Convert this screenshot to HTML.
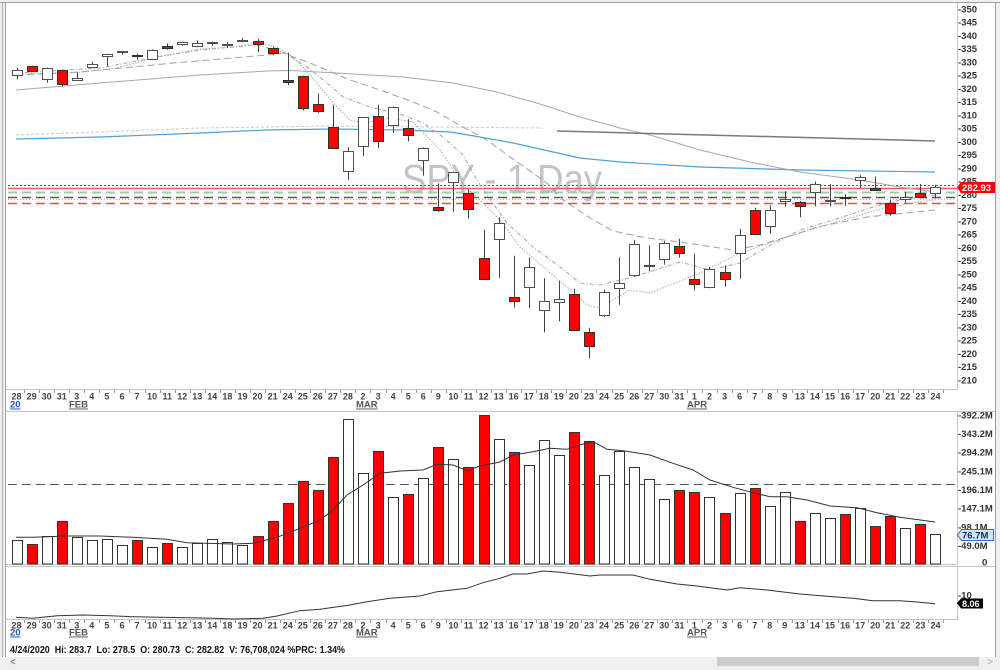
<!DOCTYPE html>
<html><head><meta charset="utf-8">
<style>
html,body{margin:0;padding:0;background:#f0f0f0;overflow:hidden;}
svg{display:block;}
text{font-family:"Liberation Sans",Arial,sans-serif;}
.ax text{font-size:9.5px;font-weight:bold;fill:#333;}
.dl text{font-size:9px;font-weight:bold;fill:#444;text-anchor:middle;}
.mo{font-size:9.5px;font-weight:bold;fill:#555;text-decoration:underline;}
</style></head>
<body>
<svg width="1000" height="670" viewBox="0 0 1000 670" xmlns="http://www.w3.org/2000/svg">
<rect width="1000" height="670" fill="#f0f0f0"/>
<rect x="6" y="3" width="989" height="654" fill="#ffffff"/>
<!-- frame -->
<line x1="0" y1="2.5" x2="1000" y2="2.5" stroke="#a0a0a0"/>
<line x1="2.5" y1="3" x2="2.5" y2="657" stroke="#b0b0b0"/>
<line x1="5.5" y1="3" x2="5.5" y2="657" stroke="#a0a0a0"/>
<line x1="995.5" y1="3" x2="995.5" y2="657" stroke="#a0a0a0"/>

<!-- panel borders -->
<g stroke="#c4c4c4" fill="none">
<line x1="6" y1="389.5" x2="957.5" y2="389.5"/>
<line x1="957.5" y1="3" x2="957.5" y2="389.5"/>
<line x1="6" y1="411.5" x2="995" y2="411.5"/>
<line x1="957.5" y1="412" x2="957.5" y2="564.5"/>
<line x1="6" y1="564.5" x2="957.5" y2="564.5"/>
<line x1="6" y1="566.5" x2="995" y2="566.5"/>
<line x1="957.5" y1="567" x2="957.5" y2="619.5"/>
<line x1="6" y1="619.5" x2="957.5" y2="619.5"/>
</g>

<!-- watermark -->
<text x="402" y="193" font-size="41" fill="#c4c4c4" textLength="200" lengthAdjust="spacingAndGlyphs">SPY - 1 Day</text>

<!-- level lines -->
<line x1="8" y1="185.5" x2="956" y2="185.5" stroke="#2e8b2e" stroke-dasharray="2,2"/>
<line x1="8" y1="188.5" x2="957" y2="188.5" stroke="#f45c5c" stroke-width="1.5"/>
<line x1="8" y1="192.5" x2="956" y2="192.5" stroke="#9ccf9c" stroke-width="2" stroke-dasharray="9,5"/>
<line x1="8" y1="197.5" x2="956" y2="197.5" stroke="#555" stroke-width="1.5" stroke-dasharray="9,5"/>
<line x1="8" y1="199.5" x2="956" y2="199.5" stroke="#f7a0a0" stroke-dasharray="1,2"/>
<line x1="8" y1="203.5" x2="956" y2="203.5" stroke="#f24a4a" stroke-width="1.5" stroke-dasharray="9,5"/>

<!-- moving averages -->
<polyline fill="none" stroke="#cacaca" stroke-dasharray="3,2" points="16,135 100,132 200,128 333,126 543,128"/>
<polyline fill="none" stroke="#4f9fd8" stroke-width="1.2" points="16,139 100,137 200,133 267,130 333,129 403,130 450,132 480,137 513,143 580,158 620,162 700,167 800,170 935,172"/>
<polyline fill="none" stroke="#a8a8a8" points="16,90 100,83 200,75 267,71 290,70.5 337,73 403,77 453,83 497,92 540,104 580,117 620,128 650,135 700,150 750,162 800,172 860,180 900,187 935,192"/>
<polyline fill="none" stroke="#7a7a7a" stroke-width="1.5" points="557,131 935,141"/>
<polyline fill="none" stroke="#a0a0a0" stroke-dasharray="7,4" points="16,75 67,73 133,67 173,63 233,58 267,55 283,53 310,63 350,80 380,90 413,102 437,112 463,127 487,140 510,157 547,183 563,200 590,218 613,231 647,238 680,242 713,247 733,250 760,245 790,236 817,227 867,217 935,210"/>
<polyline fill="none" stroke="#a4a4a4" stroke-dasharray="4,2,1,2" points="16,73 100,68 157,57 200,50 257,45 283,52 307,67 327,83 343,97 370,107 403,115 423,123 443,137 463,155 480,185 507,223 533,247 560,267 580,283 600,285 633,277 680,262 710,270 740,263 767,247 800,230 833,220 873,207 900,200 935,195"/>
<polyline fill="none" stroke="#a8a8a8" stroke-dasharray="1.5,1.5" points="16,74 83,72 117,68 157,57 200,49 233,47 257,43 277,47 290,55 303,67 320,87 337,107 350,120 363,123 390,118 413,122 440,150 463,185 480,200 500,220 520,247 547,270 567,287 587,305 600,308 613,300 630,290 650,293 700,273 740,253 787,237 833,223 877,210 917,202 935,200"/>

<g id="cg"></g>
<g id="tk" stroke="#999"></g>

<!-- volume -->
<line x1="8" y1="484.5" x2="957" y2="484.5" stroke="#555" stroke-dasharray="9,5"/>
<g id="vg"></g>
<polyline fill="none" stroke="#333" points="16,537.3 33,537.3 67,536 100,536 133,537.3 167,539.3 187,542.7 233,544 253,543.3 277,537.3 300,528.3 320,520 333,510 347,495 363,485 380,473.3 400,471 423,470 437,464.3 453,465 467,470.7 480,466 500,462 513,455 533,451.7 550,448.3 567,449.3 583,444 593,441.7 607,449.3 623,450.7 650,455 673,463.3 693,470 710,480 733,487.3 753,492.7 770,496.7 787,496.7 807,500 830,506 857,507.7 877,512.7 900,517.3 935,522"/>

<!-- indicator -->
<polyline fill="none" stroke="#333" points="16,617.3 33,618.3 57,615.7 83,615 110,615.7 133,616.7 160,617.3 187,617.7 213,618.3 233,619 263,618.3 277,616 300,610.7 320,609.3 350,605 367,601.7 390,598.3 420,596 437,591.7 467,588.3 483,582.7 500,578.3 513,574 527,574 543,571 560,572.3 590,576 600,575 633,575 650,579.3 677,584 697,586 727,590 740,587.7 767,590 800,594 833,596.7 853,598.3 873,600.7 900,600.7 917,602 935,603.7"/>

<!-- price axis labels -->
<g class="ax">
<text x="958" y="12.3">-350</text>
<text x="958" y="25.6">-345</text>
<text x="958" y="38.8">-340</text>
<text x="958" y="52.1">-335</text>
<text x="958" y="65.3">-330</text>
<text x="958" y="78.6">-325</text>
<text x="958" y="91.8">-320</text>
<text x="958" y="105.1">-315</text>
<text x="958" y="118.3">-310</text>
<text x="958" y="131.6">-305</text>
<text x="958" y="144.8">-300</text>
<text x="958" y="158.1">-295</text>
<text x="958" y="171.3">-290</text>
<text x="958" y="184.6">-285</text>
<text x="958" y="197.8">-280</text>
<text x="958" y="211.1">-275</text>
<text x="958" y="224.3">-270</text>
<text x="958" y="237.6">-265</text>
<text x="958" y="250.8">-260</text>
<text x="958" y="264.1">-255</text>
<text x="958" y="277.3">-250</text>
<text x="958" y="290.6">-245</text>
<text x="958" y="303.8">-240</text>
<text x="958" y="317.1">-235</text>
<text x="958" y="330.3">-230</text>
<text x="958" y="343.6">-225</text>
<text x="958" y="356.8">-220</text>
<text x="958" y="370.1">-215</text>
<text x="958" y="383.3">-210</text>
<!-- volume axis -->
<text x="958" y="418.3">-392.2M</text>
<text x="958" y="436.9">-343.2M</text>
<text x="958" y="455.6">-294.2M</text>
<text x="958" y="474.3">-245.1M</text>
<text x="958" y="492.9">-196.1M</text>
<text x="958" y="511.6">-147.1M</text>
<text x="958" y="530.3">-98.1M</text>
<text x="958" y="548.9">-49.0M</text>
<text x="982" y="565.5">0</text>
<text x="958" y="598.5">-10</text>
</g>

<!-- value tags -->
<polygon points="957,187.5 961,182 995,182 995,193 961,193" fill="#ff0000"/>
<text x="962" y="191" font-size="9.5" font-weight="bold" fill="#fff">282.93</text>
<polygon points="957.5,535 961.5,529.5 993.5,529.5 993.5,540.5 961.5,540.5" fill="#d6e6f7" stroke="#3a6fc0"/>
<text x="962" y="538.5" font-size="9.5" font-weight="bold" fill="#10306a">76.7M</text>
<polygon points="957,603 961,598.5 983,598.5 983,608.5 961,608.5" fill="#000"/>
<text x="962" y="606.8" font-size="9" font-weight="bold" fill="#fff">8.06</text>

<!-- day labels upper -->
<g class="dl" transform="translate(0,399.5)">
<text x="16.5" y="0">28</text><text x="31.6" y="0">29</text><text x="46.6" y="0">30</text><text x="61.7" y="0">31</text>
<text x="76.8" y="0">3</text><text x="91.8" y="0">4</text><text x="106.9" y="0">5</text><text x="122.0" y="0">6</text><text x="137.0" y="0">7</text>
<text x="152.1" y="0">10</text><text x="167.2" y="0">11</text><text x="182.2" y="0">12</text><text x="197.3" y="0">13</text><text x="212.3" y="0">14</text>
<text x="227.4" y="0">18</text><text x="242.5" y="0">19</text><text x="257.5" y="0">20</text><text x="272.6" y="0">21</text>
<text x="287.7" y="0">24</text><text x="302.7" y="0">25</text><text x="317.8" y="0">26</text><text x="332.9" y="0">27</text><text x="347.9" y="0">28</text>
<text x="363.0" y="0">2</text><text x="378.1" y="0">3</text><text x="393.1" y="0">4</text><text x="408.2" y="0">5</text><text x="423.3" y="0">6</text>
<text x="438.3" y="0">9</text><text x="453.4" y="0">10</text><text x="468.5" y="0">11</text><text x="483.5" y="0">12</text><text x="498.6" y="0">13</text>
<text x="513.6" y="0">16</text><text x="528.7" y="0">17</text><text x="543.8" y="0">18</text><text x="558.8" y="0">19</text><text x="573.9" y="0">20</text>
<text x="589.0" y="0">23</text><text x="604.0" y="0">24</text><text x="619.1" y="0">25</text><text x="634.2" y="0">26</text><text x="649.2" y="0">27</text>
<text x="664.3" y="0">30</text><text x="679.4" y="0">31</text>
<text x="694.4" y="0">1</text><text x="709.5" y="0">2</text><text x="724.6" y="0">3</text>
<text x="739.6" y="0">6</text><text x="754.7" y="0">7</text><text x="769.8" y="0">8</text><text x="784.8" y="0">9</text>
<text x="799.9" y="0">13</text><text x="814.9" y="0">14</text><text x="830.0" y="0">15</text><text x="845.1" y="0">16</text><text x="860.1" y="0">17</text>
<text x="875.2" y="0">20</text><text x="890.3" y="0">21</text><text x="905.3" y="0">22</text><text x="920.4" y="0">23</text><text x="935.5" y="0">24</text>
</g>
<text x="10" y="407.5" class="mo" style="fill:#2255cc">20</text>
<text x="69" y="407.5" class="mo">FEB</text>
<text x="356" y="407.5" class="mo">MAR</text>
<text x="687" y="407.5" class="mo">APR</text>

<!-- day labels lower -->
<g class="dl" transform="translate(0,628.5)">
<text x="16.5" y="0">28</text><text x="31.6" y="0">29</text><text x="46.6" y="0">30</text><text x="61.7" y="0">31</text>
<text x="76.8" y="0">3</text><text x="91.8" y="0">4</text><text x="106.9" y="0">5</text><text x="122.0" y="0">6</text><text x="137.0" y="0">7</text>
<text x="152.1" y="0">10</text><text x="167.2" y="0">11</text><text x="182.2" y="0">12</text><text x="197.3" y="0">13</text><text x="212.3" y="0">14</text>
<text x="227.4" y="0">18</text><text x="242.5" y="0">19</text><text x="257.5" y="0">20</text><text x="272.6" y="0">21</text>
<text x="287.7" y="0">24</text><text x="302.7" y="0">25</text><text x="317.8" y="0">26</text><text x="332.9" y="0">27</text><text x="347.9" y="0">28</text>
<text x="363.0" y="0">2</text><text x="378.1" y="0">3</text><text x="393.1" y="0">4</text><text x="408.2" y="0">5</text><text x="423.3" y="0">6</text>
<text x="438.3" y="0">9</text><text x="453.4" y="0">10</text><text x="468.5" y="0">11</text><text x="483.5" y="0">12</text><text x="498.6" y="0">13</text>
<text x="513.6" y="0">16</text><text x="528.7" y="0">17</text><text x="543.8" y="0">18</text><text x="558.8" y="0">19</text><text x="573.9" y="0">20</text>
<text x="589.0" y="0">23</text><text x="604.0" y="0">24</text><text x="619.1" y="0">25</text><text x="634.2" y="0">26</text><text x="649.2" y="0">27</text>
<text x="664.3" y="0">30</text><text x="679.4" y="0">31</text>
<text x="694.4" y="0">1</text><text x="709.5" y="0">2</text><text x="724.6" y="0">3</text>
<text x="739.6" y="0">6</text><text x="754.7" y="0">7</text><text x="769.8" y="0">8</text><text x="784.8" y="0">9</text>
<text x="799.9" y="0">13</text><text x="814.9" y="0">14</text><text x="830.0" y="0">15</text><text x="845.1" y="0">16</text><text x="860.1" y="0">17</text>
<text x="875.2" y="0">20</text><text x="890.3" y="0">21</text><text x="905.3" y="0">22</text><text x="920.4" y="0">23</text><text x="935.5" y="0">24</text>
</g>
<text x="10" y="635.5" class="mo" style="fill:#2255cc">20</text>
<text x="69" y="635.5" class="mo">FEB</text>
<text x="356" y="635.5" class="mo">MAR</text>
<text x="687" y="635.5" class="mo">APR</text>

<!-- status -->
<text x="10" y="653" font-size="10" font-weight="bold" fill="#111" style="white-space:pre" textLength="335" lengthAdjust="spacingAndGlyphs">4/24/2020  Hi: 283.7  Lo: 278.5  O: 280.73  C: 282.82  V: 76,708,024 %PRC: 1.34%</text>

<!-- scrollbar -->
<rect x="0" y="657" width="1000" height="13" fill="#f0f0f0"/>
<rect x="717" y="657" width="262" height="9" fill="#cdcdcd"/>
<text x="10" y="665" font-size="10" fill="#606060">&lt;</text>
<text x="987" y="665" font-size="10" fill="#a8a8a8">&gt;</text>
</svg>

<script>
(function(){
var D=[[325.06,327.85,323.44,326.89],[328.38,328.63,326.40,326.62],[323.69,327.91,322.18,327.68],[327.00,327.17,320.73,321.73],
[323.35,326.16,323.22,324.12],[328.07,330.01,327.72,329.06],[332.27,333.09,328.45,332.86],[333.91,334.19,332.80,333.98],[332.82,333.17,330.92,332.20],
[331.23,334.75,331.19,334.68],[336.16,337.02,334.68,335.26],[336.83,337.64,336.14,337.42],[335.86,338.12,335.56,337.06],[337.51,337.73,336.20,337.60],
[336.51,337.67,335.21,336.73],[337.79,339.08,337.48,338.34],[337.74,338.64,333.68,336.95],[335.47,335.81,332.58,333.48],
[323.14,333.56,321.24,322.42],[324.74,324.88,311.69,312.65],[314.18,318.11,310.70,311.50],[305.46,313.84,297.51,297.51],[288.70,297.89,285.54,296.26],
[298.21,309.16,294.46,309.09],[309.50,313.84,297.57,300.24],[306.12,313.10,303.33,312.86],[304.98,308.47,300.01,302.46],[293.15,297.79,287.10,297.46],
[275.30,284.19,273.45,274.23],[284.64,288.52,273.46,288.42],[280.70,281.94,270.88,274.36],[255.94,266.66,248.00,248.11],[263.09,271.48,248.52,269.32],
[241.18,256.90,237.36,239.85],[245.04,256.17,237.07,252.80],[236.25,248.37,228.02,240.00],[239.25,247.38,232.22,240.51],[242.53,244.47,228.50,228.80],
[228.19,229.68,218.26,222.95],[234.42,244.10,233.80,243.15],[244.87,256.35,238.36,246.79],[249.52,262.80,249.05,261.20],[253.00,260.81,251.05,253.42],
[255.70,262.43,253.53,261.65],[260.56,263.33,256.22,257.75],
[247.98,257.66,243.90,246.15],[245.19,252.68,244.59,251.83],[250.76,253.32,245.22,248.19],
[257.84,267.00,248.17,264.86],[274.21,275.03,264.89,265.13],[267.96,276.00,265.25,274.03],[277.58,281.20,275.47,278.20],
[277.14,277.51,271.41,275.66],[280.98,284.90,275.51,283.79],[277.57,283.94,275.46,277.76],[279.15,280.03,275.76,279.10],[285.38,287.30,282.40,286.64],
[282.61,286.79,281.35,281.59],[276.73,278.04,272.02,273.04],[278.35,281.00,276.91,279.10],[280.49,283.94,278.75,279.08],[280.73,283.70,278.50,282.82]];
var VT=[540,544,535.7,521,537.3,540.3,539,545,540,547.3,543.3,547,543.3,539.3,542.3,545,536,521,503.3,481,490.3,456.7,418.7,473.3,450.7,497,494,477.7,447,459.3,467.3,415.3,439.3,
452.3,465,440.3,455,432.3,440.7,475,450.7,466.7,479.3,499.3,490.3,492.3,497,512.7,493.3,488,505.7,492.3,521,513,518,514,508.3,526.3,515.7,528,524.3,534.3];
function X(i){return 16.5+15.065*i;}
function Y(p){return 9+(350-p)*2.65;}
var c='',v='',t='';
for(var i=0;i<D.length;i++){
 var o=D[i][0],h=D[i][1],l=D[i][2],cl=D[i][3];
 var xr=Math.round(X(i))+0.5, red=cl<o;
 c+='<line x1="'+xr+'" x2="'+xr+'" y1="'+Y(h).toFixed(1)+'" y2="'+Y(l).toFixed(1)+'" stroke="#404040"/>';
 var tp=Math.round(Y(Math.max(o,cl)))+0.5, bt=Math.round(Y(Math.min(o,cl)))+0.5;
 var hh=bt-tp; if(hh<1)hh=1;
 c+='<rect x="'+(xr-5)+'" y="'+tp+'" width="10" height="'+hh+'" fill="'+(red?'#ff0000':'#ffffff')+'" stroke="'+(red?'#303030':'#505050')+'"/>';
 var vy=Math.round(VT[i])+0.5;
 v+='<rect x="'+(xr-5)+'" y="'+vy+'" width="10" height="'+(564-vy)+'" fill="'+(red?'#ff0000':'#ffffff')+'" stroke="#333"/>';
 var tx=Math.round(X(i)+7.5)+0.5;
 t+='<line x1="'+tx+'" x2="'+tx+'" y1="390" y2="393"/><line x1="'+tx+'" x2="'+tx+'" y1="620" y2="623"/>';
}
document.getElementById('cg').innerHTML=c;
document.getElementById('vg').innerHTML=v;
document.getElementById('tk').innerHTML=t;
})();
</script>
</body></html>
